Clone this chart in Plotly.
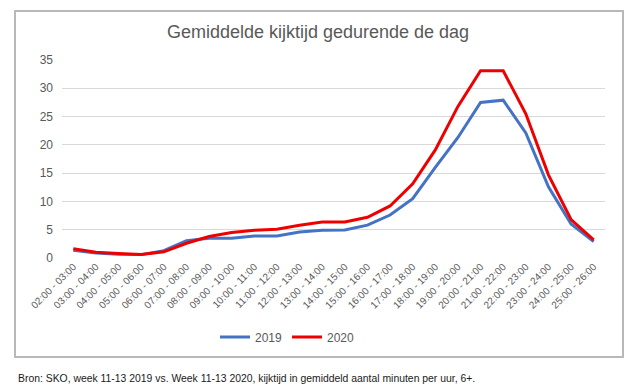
import plotly.graph_objects as go

categories = ["02:00 - 03:00", "03:00 - 04:00", "04:00 - 05:00", "05:00 - 06:00",
              "06:00 - 07:00", "07:00 - 08:00", "08:00 - 09:00", "09:00 - 10:00",
              "10:00 - 11:00", "11:00 - 12:00", "12:00 - 13:00", "13:00 - 14:00",
              "14:00 - 15:00", "15:00 - 16:00", "16:00 - 17:00", "17:00 - 18:00",
              "18:00 - 19:00", "19:00 - 20:00", "20:00 - 21:00", "21:00 - 22:00",
              "22:00 - 23:00", "23:00 - 24:00", "24:00 - 25:00", "25:00 - 26:00"]
values_2019 = [1.35, 0.9, 0.65, 0.6, 1.3, 3.05, 3.5, 3.5, 3.9, 3.9, 4.6, 4.9,
               4.95, 5.8, 7.6, 10.5, 16.0, 21.3, 27.5, 27.9, 22.1, 12.6, 6.0, 2.9]
values_2020 = [1.65, 1.0, 0.8, 0.6, 1.1, 2.6, 3.8, 4.5, 4.9, 5.1, 5.8, 6.35,
               6.35, 7.2, 9.2, 13.1, 19.1, 26.8, 33.1, 33.1, 25.5, 14.7, 6.8, 3.2]
y_ticks = [0, 5, 10, 15, 20, 25, 30, 35]

W, H = 633, 392
# outer frame (chart border) in pixels
FL, FR, FT, FB = 16, 622, 12, 356
fw, fh = FR - FL, FB - FT

def px_x(p):
    return (p - FL) / fw

def px_y(p):
    return (FB - p) / fh

# inner plot area in pixels
PL, PR, PT, PB = 62, 605, 60, 258

fig = go.Figure()
fig.add_trace(go.Scatter(x=categories, y=values_2019, name="2019", mode="lines",
                         line=dict(color="#4472c4", width=3)))
fig.add_trace(go.Scatter(x=categories, y=values_2020, name="2020", mode="lines",
                         line=dict(color="#ee0000", width=3)))
# empty trace that carries the frame axes
fig.add_trace(go.Scatter(x=[None], y=[None], xaxis="x2", yaxis="y2", showlegend=False,
                         hoverinfo="skip", mode="lines"))

frame_axis = dict(range=[0, 1], showgrid=False, zeroline=False, showticklabels=False,
                  ticks="", showline=True, mirror=True, linecolor="#b8b8b8", linewidth=1.5,
                  domain=[0, 1], fixedrange=True)

fig.update_layout(
    width=W, height=H,
    margin=dict(l=FL, r=W - FR, t=FT, b=H - FB, autoexpand=False),
    paper_bgcolor="white", plot_bgcolor="rgba(0,0,0,0)",
    font=dict(family="Liberation Sans, Arial, sans-serif", color="#595959"),
    title=dict(text="Gemiddelde kijktijd gedurende de dag", x=(318 / W), xanchor="center",
               y=1 - 32 / H, yanchor="middle",
               font=dict(size=18, color="#595959")),
    showlegend=True,
    legend=dict(orientation="h", x=px_x(215), xanchor="left", y=px_y(337), yanchor="middle",
                font=dict(size=12, color="#595959"), itemwidth=30, tracegroupgap=0,
                bgcolor="rgba(0,0,0,0)"),
    xaxis=dict(type="category", range=[-0.5, len(categories) - 0.5], tickangle=-45,
               tickfont=dict(size=10, color="#595959"), showgrid=False, showline=False,
               ticks="", zeroline=False, fixedrange=True,
               domain=[px_x(PL), px_x(PR)], anchor="y"),
    yaxis=dict(range=[0, 35], tickvals=y_ticks, tickfont=dict(size=12, color="#595959"),
               showgrid=True, gridcolor="#d9d9d9", gridwidth=1, zeroline=False,
               showline=False, ticks="", ticklabelstandoff=8,
               domain=[px_y(PB), px_y(PT)], anchor="x", fixedrange=True),
    xaxis2=dict(frame_axis, anchor="y2"),
    yaxis2=dict(frame_axis, anchor="x2"),
)

fig.add_annotation(text="Bron: SKO, week 11-13 2019 vs. Week 11-13 2020, kijktijd in gemiddeld aantal minuten per uur, 6+.",
                   xref="paper", yref="paper", x=px_x(16), y=px_y(378), xanchor="left",
                   yanchor="middle", showarrow=False,
                   font=dict(size=10.4, color="#1a1a1a", family="Liberation Sans, Arial, sans-serif"))

fig.write_html("out.html", config={"displayModeBar": False},
               post_script="document.body.style.margin='0';")
